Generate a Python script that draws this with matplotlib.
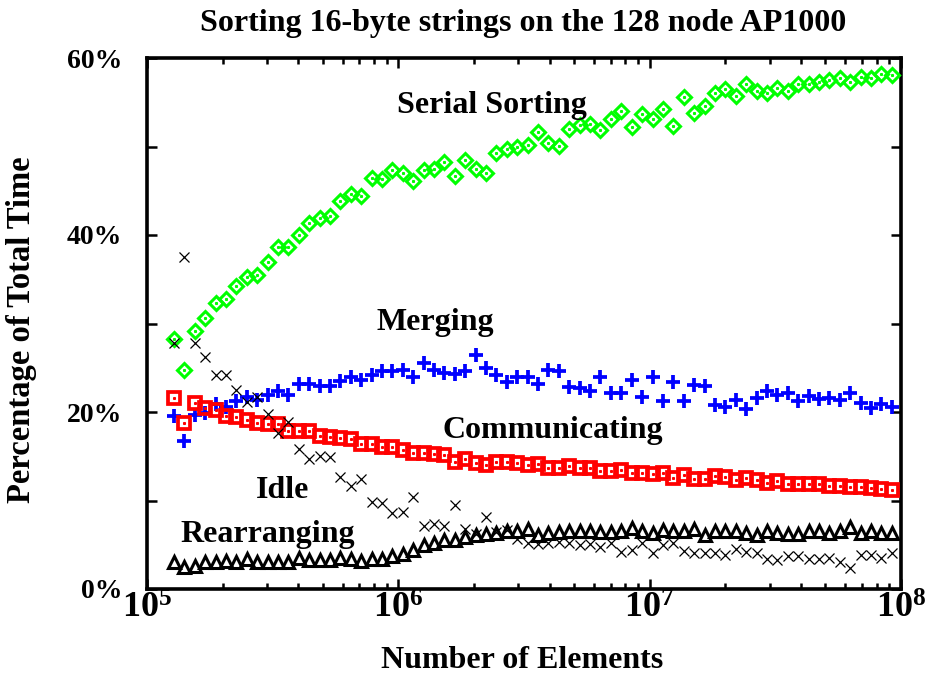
import matplotlib
matplotlib.use('Agg')
import matplotlib.pyplot as plt
import matplotlib.ticker as ticker

plt.rcParams.update({
    'font.family': 'Liberation Serif',
    'font.weight': 'bold',
    'axes.labelweight': 'bold',
    'mathtext.fontset': 'custom',
    'mathtext.rm': 'Liberation Serif:bold',
    'mathtext.it': 'Liberation Serif:bold',
    'mathtext.bf': 'Liberation Serif:bold',
})

# --- data (percent of total time) ---
n_elements = [
    128000, 140800, 154880, 170368, 187405, 206145, 226760, 249436, 274379, 301817,
    331999, 365199, 401719, 441891, 486080, 534688, 588156, 646972, 711669, 782836,
    861120, 947232, 1041955, 1146151, 1260766, 1386842, 1525527, 1678079, 1845887, 2030476,
    2233523, 2456876, 2702563, 2972820, 3270102, 3597112, 3956823, 4352505, 4787756, 5266531,
    5793184, 6372503, 7009753, 7710729, 8481801, 9329982, 10262980, 11289278, 12418206, 13660026,
    15026029, 16528632, 18181495, 19999645, 21999609, 24199570, 26619527, 29281480, 32209628, 35430591,
    38973650, 42871015, 47158116, 51873928, 57061321, 62767453, 69044198, 75948618, 83543480, 91897828,
]

serial_sorting = [
    28.2, 24.7, 29.2, 30.6, 32.3, 32.8, 34.2, 35.2, 35.5, 37.0,
    38.7, 38.6, 40.0, 41.3, 41.9, 42.2, 43.8, 44.6, 44.4, 46.4,
    46.3, 47.3, 47.0, 46.1, 47.3, 47.5, 48.2, 46.7, 48.5, 47.5,
    47.0, 49.3, 49.7, 49.9, 50.2, 51.6, 50.4, 50.1, 52.0, 52.4,
    52.5, 51.9, 53.1, 54.0, 52.2, 53.7, 53.1, 54.2, 52.3, 55.6,
    53.8, 54.6, 56.0, 56.5, 55.7, 57.1, 56.3, 56.1, 56.6, 56.3,
    57.1, 57.1, 57.3, 57.5, 57.7, 57.3, 57.8, 57.7, 58.2, 58.1,
]

merging = [
    19.5, 16.7, 19.7, 19.9, 20.9, 20.6, 21.2, 21.7, 21.3, 21.9,
    22.4, 21.9, 23.2, 23.2, 22.9, 22.9, 23.5, 24.0, 23.6, 24.2,
    24.6, 24.6, 24.7, 24.0, 25.5, 24.8, 24.4, 24.3, 24.6, 26.4,
    25.0, 24.2, 23.4, 23.9, 23.9, 23.2, 24.7, 24.6, 22.8, 22.7,
    22.4, 24.0, 22.1, 22.2, 23.6, 21.7, 24.0, 21.2, 23.4, 21.2,
    23.0, 22.9, 20.8, 20.6, 21.3, 20.3, 21.6, 22.4, 21.9, 22.1,
    21.2, 21.8, 21.5, 21.6, 21.3, 22.2, 21.0, 20.5, 20.9, 20.6,
]

communicating = [
    21.6, 18.8, 21.0, 20.4, 20.2, 19.5, 19.4, 19.1, 18.8, 18.6,
    18.6, 17.9, 17.9, 17.9, 17.3, 17.2, 17.1, 16.9, 16.4, 16.4,
    16.1, 16.1, 15.7, 15.4, 15.4, 15.3, 15.1, 14.4, 14.7, 14.2,
    14.0, 14.3, 14.3, 14.2, 14.0, 14.1, 13.7, 13.7, 13.9, 13.7,
    13.7, 13.3, 13.3, 13.4, 13.1, 13.1, 13.0, 13.1, 12.5, 12.9,
    12.4, 12.4, 12.8, 12.7, 12.3, 12.5, 12.3, 12.0, 12.2, 11.9,
    11.9, 11.9, 11.9, 11.6, 11.6, 11.5, 11.5, 11.4, 11.3, 11.2,
]

idle = [
    27.8, 37.5, 27.8, 26.2, 24.2, 24.2, 22.5, 21.1, 21.7, 19.8,
    17.6, 18.9, 15.8, 14.7, 15.0, 14.9, 12.6, 11.6, 12.4, 9.8,
    9.7, 8.6, 8.7, 10.4, 7.1, 7.3, 7.1, 9.5, 6.8, 6.2,
    8.1, 6.4, 6.7, 5.7, 5.2, 5.1, 5.2, 5.3, 5.2, 5.0,
    5.1, 4.8, 5.2, 4.2, 4.4, 5.2, 4.1, 5.0, 5.2, 4.3,
    4.1, 4.1, 4.1, 3.8, 4.5, 4.2, 4.1, 3.4, 3.3, 3.7,
    3.7, 3.4, 3.4, 3.5, 3.1, 2.4, 3.8, 3.8, 3.5, 4.1,
]

rearranging = [
    3.1, 2.5, 2.6, 3.1, 3.1, 3.2, 3.1, 3.4, 3.0, 3.1,
    3.1, 3.1, 3.5, 3.3, 3.3, 3.3, 3.5, 3.4, 3.2, 3.4,
    3.4, 3.7, 4.0, 4.4, 5.0, 5.2, 5.5, 5.5, 5.9, 6.1,
    6.2, 6.3, 6.5, 6.6, 6.8, 6.1, 6.3, 6.4, 6.5, 6.6,
    6.5, 6.4, 6.4, 6.5, 6.9, 6.5, 6.3, 6.7, 6.5, 6.5,
    6.8, 6.1, 6.6, 6.6, 6.6, 6.3, 6.1, 6.5, 6.3, 6.2,
    6.2, 6.5, 6.5, 6.3, 6.6, 7.0, 6.3, 6.6, 6.3, 6.3,
]

x_ticks = [1e5, 1e6, 1e7, 1e8]
x_ticklabels = [r'$10^{5}$', r'$10^{6}$', r'$10^{7}$', r'$10^{8}$']
y_ticks = [0, 20, 40, 60]
y_ticklabels = ['0%', '20%', '40%', '60%']

GREEN = '#00FF00'
BLUE = '#0000FF'
RED = '#FF0000'
LABEL_FS = 23

fig = plt.figure(figsize=(9.25, 6.78), dpi=100)
ax = fig.add_axes([147 / 925, 89 / 678, 754 / 925, 531 / 678])

ax.plot(n_elements, serial_sorting, 'D', ms=6.8, mfc='none', mec=GREEN, mew=2.2, zorder=3)
ax.plot(n_elements, serial_sorting, 's', ms=1.2, color=GREEN, zorder=3)
ax.plot(n_elements, merging, '+', ms=9.5, mec=BLUE, mew=2.7, zorder=3)
ax.plot(n_elements, communicating, 's', ms=8, mfc='none', mec=RED, mew=2.7, zorder=3)
ax.plot(n_elements, communicating, 's', ms=1.2, color=RED, zorder=3)
ax.plot(n_elements, idle, 'x', ms=7.5, mec='black', mew=0.9, zorder=3)
ax.plot(n_elements, rearranging, '^', ms=8.5, mfc='none', mec='black', mew=2.2, zorder=3)

ax.set_xscale('log')
ax.set_xlim(1e5, 1e8)
ax.set_ylim(0, 60)

ax.set_xticks(x_ticks)
ax.set_xticklabels(x_ticklabels)
ax.xaxis.set_minor_locator(ticker.LogLocator(base=10, subs=range(2, 10)))
ax.xaxis.set_minor_formatter(ticker.NullFormatter())
ax.set_yticks(y_ticks)
ax.set_yticklabels(y_ticklabels)
ax.yaxis.set_minor_locator(ticker.FixedLocator([10, 30, 50]))

ax.tick_params(which='both', direction='in', top=True, right=True, width=1.8, color='black')
ax.tick_params(which='major', length=7)
ax.tick_params(axis='y', which='minor', length=7)
ax.tick_params(axis='x', which='minor', length=4)
ax.tick_params(axis='y', labelsize=20, pad=18)
ax.tick_params(axis='x', labelsize=26, pad=3)

for s in ax.spines.values():
    s.set_linewidth(2.6)

ax.set_xlabel('Number of Elements', fontsize=LABEL_FS, va='center')
ax.xaxis.set_label_coords(0.498, -0.134)
ax.set_ylabel('Percentage of Total Time', fontsize=LABEL_FS + 0.5, va='center')
ax.yaxis.set_label_coords(-0.166, 0.488)
fig.text(523 / 925, 1 - 24 / 678, 'Sorting 16-byte strings on the 128 node AP1000',
         ha='center', va='center', fontsize=LABEL_FS)

ax.text(0.458, 0.911, 'Serial Sorting', transform=ax.transAxes, ha='center', va='center', fontsize=LABEL_FS)
ax.text(0.382, 0.501, 'Merging', transform=ax.transAxes, ha='center', va='center', fontsize=LABEL_FS)
ax.text(0.538, 0.299, 'Communicating', transform=ax.transAxes, ha='center', va='center', fontsize=LABEL_FS)
ax.text(0.180, 0.186, 'Idle', transform=ax.transAxes, ha='center', va='center', fontsize=LABEL_FS)
ax.text(0.160, 0.102, 'Rearranging', transform=ax.transAxes, ha='center', va='center', fontsize=LABEL_FS)

fig.savefig('out.png', dpi=100)
